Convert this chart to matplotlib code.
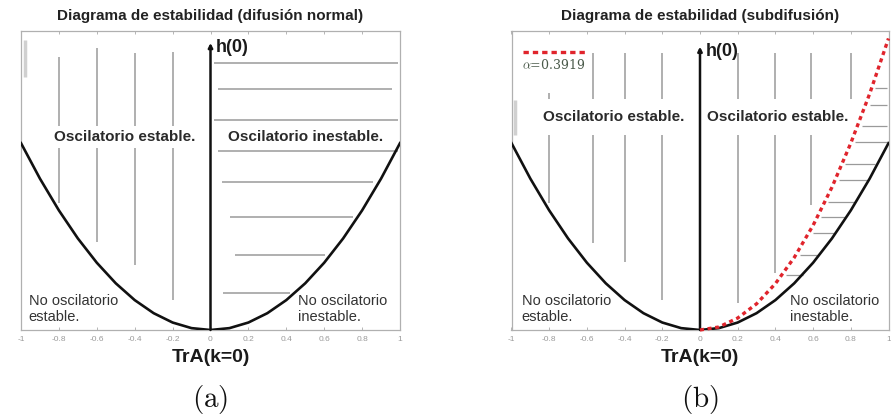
import matplotlib
matplotlib.use("Agg")
import matplotlib.pyplot as plt
import numpy as np

plt.rcParams['font.family'] = ['Liberation Sans', 'DejaVu Sans']
plt.rcParams['mathtext.fontset'] = 'cm'

# boundary curve h = TrA^2/4 read at 0.1 steps
tra = [-1.0, -0.9, -0.8, -0.7, -0.6, -0.5, -0.4, -0.3, -0.2, -0.1, 0.0,
       0.1, 0.2, 0.3, 0.4, 0.5, 0.6, 0.7, 0.8, 0.9, 1.0]
h_par = [0.25, 0.2025, 0.16, 0.1225, 0.09, 0.0625, 0.04, 0.0225, 0.01, 0.0025, 0.0,
         0.0025, 0.01, 0.0225, 0.04, 0.0625, 0.09, 0.1225, 0.16, 0.2025, 0.25]

# subdiffusion curve (alpha=0.3919)
red_tra = [0.0, 0.1, 0.2, 0.3, 0.4, 0.5, 0.6, 0.7, 0.8, 0.9, 1.0]
red_h = [0.0, 0.004, 0.016, 0.035, 0.062, 0.097, 0.140, 0.191, 0.250, 0.316, 0.39]

ticks = [-1, -0.8, -0.6, -0.4, -0.2, 0, 0.2, 0.4, 0.6, 0.8, 1]
tick_labels = ['-1', '-0.8', '-0.6', '-0.4', '-0.2', '0', '0.2', '0.4', '0.6', '0.8', '1']

# hatching, panel (a)
a_vert_x = [-0.8, -0.6, -0.4, -0.2]
a_vert_top = [0.365, 0.377, 0.37, 0.372]
a_vert_bot = [0.17, 0.118, 0.087, 0.040]
a_horiz_h = [0.0495, 0.100, 0.151, 0.198, 0.240, 0.281, 0.322, 0.357]
a_horiz_start = [0.068, 0.13, 0.105, 0.063, 0.042, 0.016, 0.042, 0.016]
a_horiz_end = [0.421, 0.605, 0.753, 0.858, 0.99, 0.99, 0.958, 0.99]

# hatching, panel (b)
b_vert_x = [-0.8, -0.57, -0.4, -0.2, 0.2, 0.4, 0.59, 0.8]
b_vert_top = [0.317, 0.37, 0.37, 0.37, 0.37, 0.37, 0.37, 0.37]
b_vert_bot = [0.17, 0.116, 0.091, 0.040, 0.036, 0.076, 0.167, 0.281]
b_horiz_h = [0.074, 0.100, 0.130, 0.151, 0.171, 0.201, 0.222, 0.252, 0.273, 0.301, 0.324]
b_horiz_start = [0.456, 0.53, 0.60, 0.64, 0.68, 0.74, 0.77, 0.82, 0.86, 0.90, 0.93]
b_horiz_end = [0.544, 0.62, 0.71, 0.77, 0.82, 0.89, 0.93, 0.99, 0.99, 0.99, 0.99]

hatch = '#9a9a9a'
fig = plt.figure(figsize=(8.91, 4.2), dpi=100)
ax1 = fig.add_axes([21 / 891, 90 / 420, 379 / 891, 299 / 420])
ax2 = fig.add_axes([511.5 / 891, 90 / 420, 377 / 891, 299 / 420])


def base(ax, title, tag, arrow_top):
    ax.set_xlim(-1, 1)
    ax.set_ylim(0, 0.4)
    for s in ax.spines.values():
        s.set_color('#b0b0b0')
        s.set_linewidth(0.9)
    ax.set_xticks(ticks)
    ax.set_xticklabels(tick_labels)
    ax.set_yticks([])
    ax.tick_params(axis='x', top=True, direction='in', length=2, width=0.6,
                   color='#aaaaaa', labelsize=6, labelcolor='#9a9a9a', pad=4)
    ax.plot(tra, h_par, color='#111111', lw=1.9, zorder=4)
    ax.annotate('', xy=(0, arrow_top), xytext=(0, 0),
                arrowprops=dict(arrowstyle='-|>', lw=1.8, color='#111111',
                                mutation_scale=6, shrinkA=0, shrinkB=0), zorder=5)
    ax.text(0.03, arrow_top - 0.006, 'h(0)', fontsize=13, fontweight='bold',
            color='#1a1a1a', va='center', ha='left')
    ax.text(0.5, 1 + 15 / 299, title, transform=ax.transAxes, ha='center',
            va='center', fontsize=11, fontweight='bold', color='#222222')
    ax.text(0.5, -28 / 299, 'TrA(k=0)', transform=ax.transAxes, ha='center',
            va='center', fontsize=14, fontweight='bold', color='#1a1a1a')
    ax.text(0.5, -70 / 299, r'$\mathrm{(%s)}$' % tag, transform=ax.transAxes,
            ha='center', va='center', fontsize=21, color='#111111')


box = dict(facecolor='white', edgecolor='none', boxstyle='square,pad=0.25')
lab = dict(fontsize=11, fontweight='bold', color='#2a2a2a', ha='center',
           va='center', zorder=3)
low = dict(fontsize=10.5, color='#333333', ha='left', va='center',
           linespacing=1.15, zorder=3)

# panel (a)
base(ax1, 'Diagrama de estabilidad (difusión normal)', 'a', 0.384)
ax1.vlines(a_vert_x, a_vert_bot, a_vert_top, color=hatch, lw=1.1, zorder=1)
ax1.vlines([-0.98], [0.338], [0.388], color='#d0d0d0', lw=2.5, zorder=1)
ax1.hlines(a_horiz_h, a_horiz_start, a_horiz_end, color=hatch, lw=1.1, zorder=1)
ax1.text(-0.455, 0.258, 'Oscilatorio estable.', bbox=box, **lab)
ax1.text(0.5, 0.258, 'Oscilatorio inestable.', bbox=box, **lab)
ax1.text(-0.96, 0.028, 'No oscilatorio\nestable.', **low)
ax1.text(0.463, 0.028, 'No oscilatorio\ninestable.', **low)

# panel (b)
base(ax2, 'Diagrama de estabilidad (subdifusión)', 'b', 0.379)
ax2.vlines(b_vert_x, b_vert_bot, b_vert_top, color=hatch, lw=1.1, zorder=1)
ax2.vlines([-0.98], [0.261], [0.308], color='#d0d0d0', lw=2.5, zorder=1)
ax2.hlines(b_horiz_h, b_horiz_start, b_horiz_end, color=hatch, lw=0.9, zorder=1)
box_b = dict(facecolor='white', edgecolor='none', boxstyle='square,pad=0.7')
ax2.text(-0.457, 0.285, 'Oscilatorio estable.', bbox=box_b, **lab)
ax2.text(0.41, 0.285, 'Oscilatorio estable.', bbox=box_b, **lab)
ax2.text(-0.945, 0.028, 'No oscilatorio\nestable.', **low)
ax2.text(0.478, 0.028, 'No oscilatorio\ninestable.', **low)
ax2.plot(red_tra, red_h, color='#e0242c', lw=2.4, ls=(0, (1.2, 1.1)),
         zorder=5, clip_on=False)

# legend
ax2.plot([-0.937, -0.60], [0.372, 0.372], color='#e0242c', lw=2.4,
         ls=(0, (1.6, 1.2)), zorder=5)
ax2.text(-0.945, 0.354, r'$\alpha$=0.3919', ha='left', va='center',
         fontsize=9, family='DejaVu Serif', color='#4a5a4a', zorder=5)

fig.savefig('out.png', dpi=100)
